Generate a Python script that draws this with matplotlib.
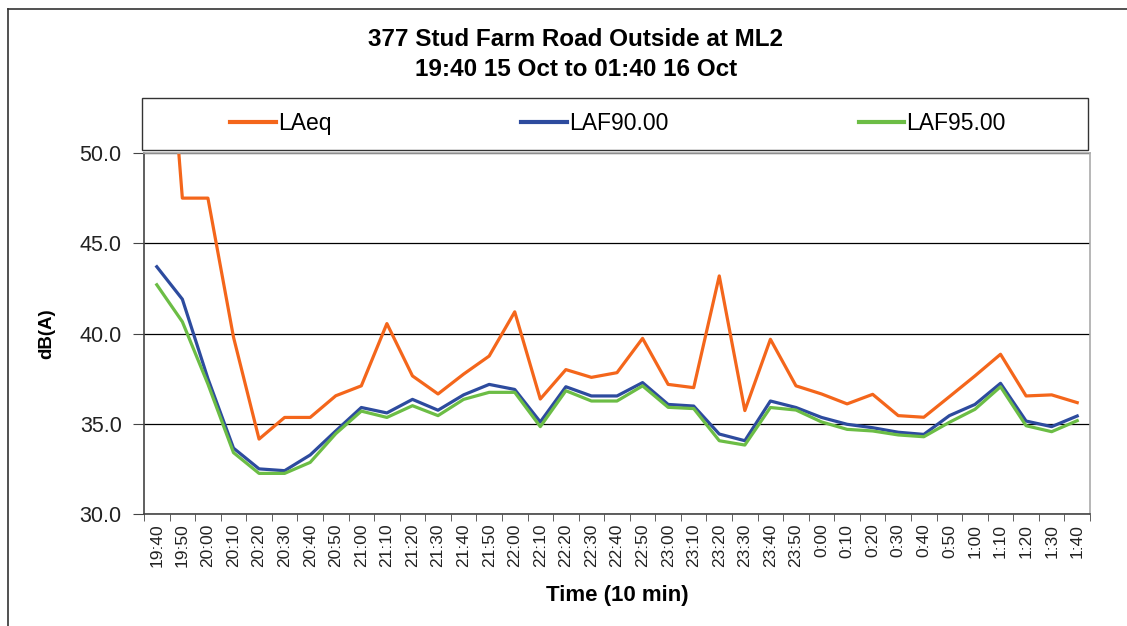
import numpy as np
import matplotlib.pyplot as plt
from matplotlib.lines import Line2D
from matplotlib.patches import Rectangle

times = ['19:40', '19:50', '20:00', '20:10', '20:20', '20:30', '20:40', '20:50',
         '21:00', '21:10', '21:20', '21:30', '21:40', '21:50', '22:00', '22:10',
         '22:20', '22:30', '22:40', '22:50', '23:00', '23:10', '23:20', '23:30',
         '23:40', '23:50', '0:00', '0:10', '0:20', '0:30', '0:40', '0:50',
         '1:00', '1:10', '1:20', '1:30', '1:40']

laeq = [65.5, 47.5, 47.5, 39.8, 34.15, 35.35, 35.35, 36.55, 37.1, 40.55, 37.65, 36.65,
        37.75, 38.75, 41.2, 36.37, 38.0, 37.57, 37.83, 39.73, 37.18, 37.0, 43.19, 35.73,
        39.68, 37.1, 36.65, 36.1, 36.63, 35.45, 35.36, 36.5, 37.65, 38.85, 36.54, 36.6, 36.17]

laf90 = [43.7, 41.9, 37.5, 33.65, 32.5, 32.4, 33.27, 34.6, 35.9, 35.6, 36.35, 35.75,
         36.6, 37.18, 36.9, 35.1, 37.05, 36.54, 36.54, 37.28, 36.07, 35.98, 34.43, 34.06,
         36.26, 35.9, 35.35, 34.97, 34.78, 34.53, 34.41, 35.45, 36.07, 37.24, 35.15, 34.84, 35.43]

laf95 = [42.7, 40.65, 37.2, 33.4, 32.25, 32.25, 32.86, 34.45, 35.7, 35.35, 36.0, 35.45,
         36.35, 36.74, 36.74, 34.84, 36.83, 36.26, 36.26, 37.1, 35.91, 35.84, 34.06, 33.82,
         35.9, 35.76, 35.1, 34.69, 34.6, 34.38, 34.28, 35.08, 35.8, 37.05, 34.89, 34.56, 35.17]

plt.rcParams['font.family'] = ['Liberation Sans', 'DejaVu Sans']

W, H = 1127, 626
fig = plt.figure(figsize=(W / 100, H / 100), dpi=100)
ax = fig.add_axes([144 / W, 1 - 514 / H, (1090 - 144) / W, (514 - 153) / H])

x = np.arange(len(times))
ax.plot(x, laeq, color='#F4661B', lw=2.3, label='LAeq')
ax.plot(x, laf90, color='#2D4B9E', lw=2.3, label='LAF90.00')
ax.plot(x, laf95, color='#6CBD45', lw=2.3, label='LAF95.00')

ax.set_ylim(30, 50)
ax.set_xlim(-0.5, len(times) - 0.5)
ax.set_yticks([30, 35, 40, 45, 50])
ax.set_yticklabels(['30.0', '35.0', '40.0', '45.0', '50.0'], fontsize=15.5, color='#222222')
ax.set_xticks(x)
ax.set_xticklabels(times, rotation=90, fontsize=12.5, color='#222222')
ax.set_xticks(np.arange(len(times) + 1) - 0.5, minor=True)
ax.tick_params(axis='x', which='major', length=0, pad=7)
ax.tick_params(axis='x', which='minor', length=5, color='#444444')
ax.tick_params(axis='y', length=8, color='#444444', pad=8)
ax.grid(axis='y', color='black', lw=0.9)
ax.set_axisbelow(True)

for s in ['top', 'right']:
    ax.spines[s].set_color('#aaaaaa')
    ax.spines[s].set_linewidth(1.2)
for s in ['left', 'bottom']:
    ax.spines[s].set_color('#444444')
    ax.spines[s].set_linewidth(1.2)

ax.set_ylabel('dB(A)', fontsize=13.5, fontweight='bold')
ax.yaxis.set_label_coords(-0.094, 0.5)
ax.set_xlabel('Time (10 min)', fontsize=16, fontweight='bold')
ax.xaxis.set_label_coords(0.5, -0.197)

fig.text(576 / W, 1 - 40 / H, '377 Stud Farm Road Outside at ML2', ha='center', va='center',
         fontsize=17.5, fontweight='bold')
fig.text(576 / W, 1 - 69 / H, '19:40 15 Oct to 01:40 16 Oct', ha='center', va='center',
         fontsize=17.5, fontweight='bold')

fig.add_artist(Rectangle((142 / W, 1 - 150 / H), (1088 - 142) / W, 52 / H,
                         transform=fig.transFigure, fill=False, edgecolor='#333333', lw=1.0))
leg = fig.legend(loc='center left', ncol=3, mode='expand',
                 bbox_to_anchor=(230 / W, 1 - 136 / H, (1006 - 230) / W, 24 / H),
                 fontsize=16.5, frameon=False, handlelength=2.0,
                 handletextpad=0.1, borderaxespad=0, borderpad=0)
for ln in leg.get_lines():
    ln.set_linewidth(3)

fig.add_artist(Line2D([8 / W, 8 / W], [0, 1 - 9 / H], color='#333333', lw=1.2))
fig.add_artist(Line2D([8 / W, 1], [1 - 9 / H, 1 - 9 / H], color='#333333', lw=1.2))

fig.savefig('out.png', dpi=100)
